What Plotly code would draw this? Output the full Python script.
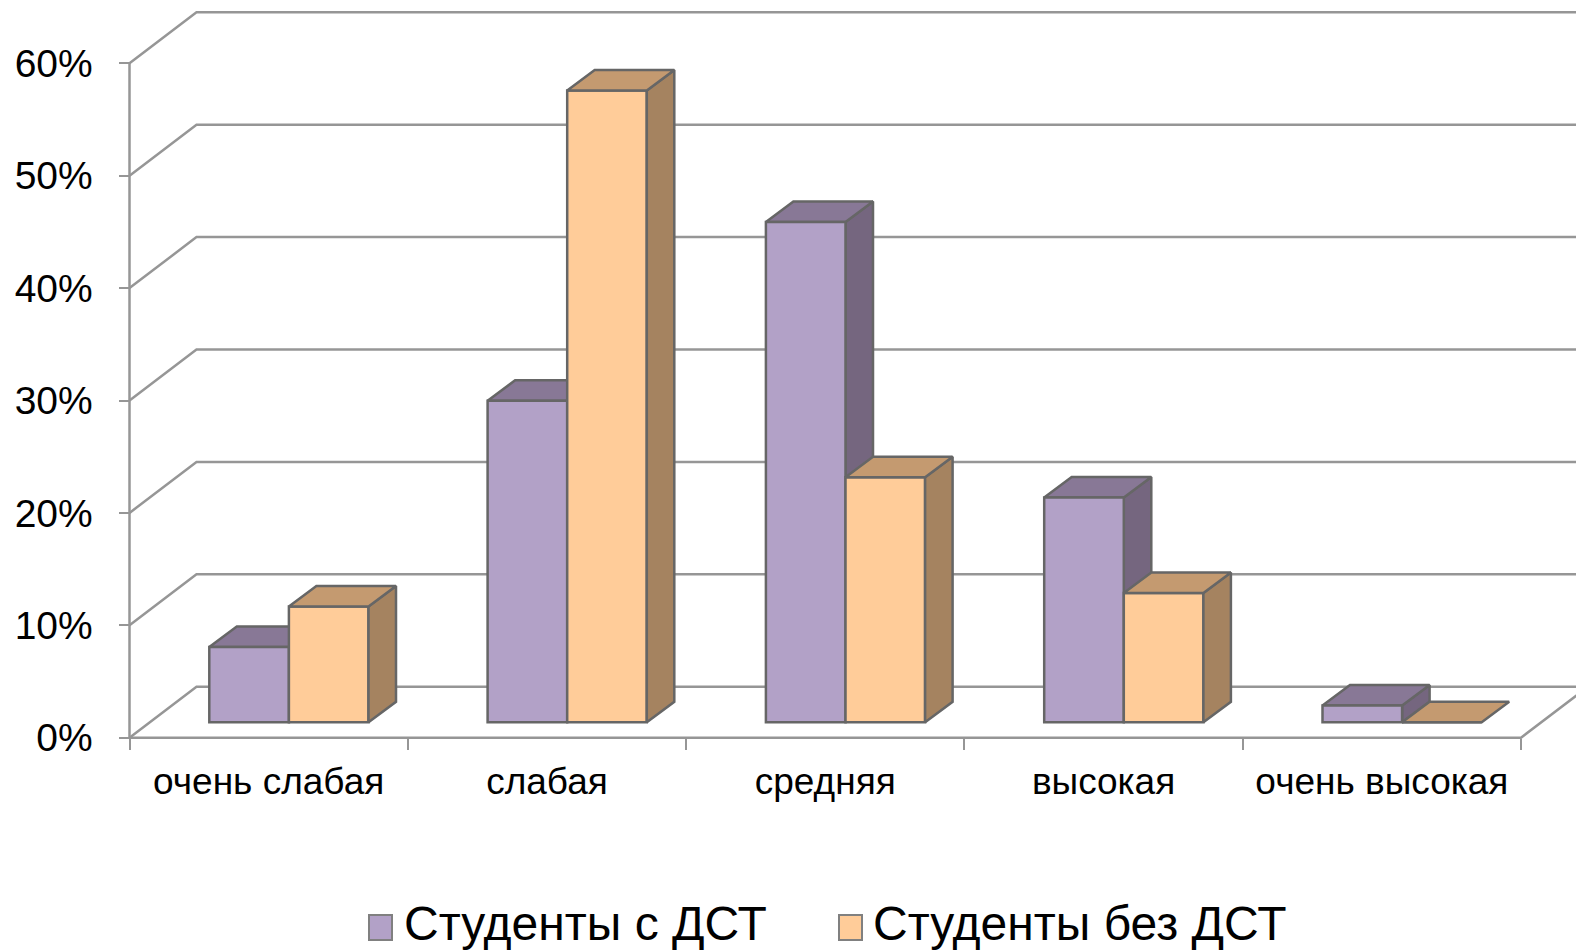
import plotly.graph_objects as go

categories = ["очень слабая", "слабая", "средняя", "высокая", "очень высокая"]
with_dst = [6.7, 28.6, 44.5, 20.0, 1.5]
without_dst = [10.3, 56.2, 21.8, 11.5, 0.0]
y_ticks = [0, 10, 20, 30, 40, 50, 60]
y_labels = ["0%", "10%", "20%", "30%", "40%", "50%", "60%"]
series_names = ["Студенты с ДСТ", "Студенты без ДСТ"]

W, H = 1576, 950
X0_PX, Y0_PX = 129.5, 737.7
STEP_PX, PCT_PX = 278.3, 11.24
x_range = [-X0_PX / STEP_PX, (W - X0_PX) / STEP_PX]
y_range = [(Y0_PX - H) / PCT_PX, Y0_PX / PCT_PX]

wall_dx, wall_dy = 67 / STEP_PX, 51 / PCT_PX
depth_dx, depth_dy = 27.5 / STEP_PX, 20.5 / PCT_PX
floor = 15.4 / PCT_PX
bar_w = 79.6 / STEP_PX
bar_left = 79.8 / STEP_PX

GRID = "#969696"
EDGE = "#666666"
GRID_W = 2.5
EDGE_W = 2.5
PURPLE = dict(front="#B2A1C7", top="#887896", side="#75667F")
ORANGE = dict(front="#FFCC99", top="#C49A70", side="#A58360")
FONT = "Liberation Sans, Arial, sans-serif"

fig = go.Figure()
n = len(categories)

# Walls and floor
for t in y_ticks:
    fig.add_trace(go.Scatter(x=[0, wall_dx, x_range[1]], y=[t, t + wall_dy, t + wall_dy], mode="lines",
                             line=dict(color=GRID, width=GRID_W), showlegend=False, hoverinfo="skip"))
fig.add_trace(go.Scatter(x=[0, 0], y=[0, y_ticks[-1]], mode="lines", line=dict(color=GRID, width=GRID_W),
                         showlegend=False, hoverinfo="skip"))
fig.add_trace(go.Scatter(x=[0, n, n + wall_dx], y=[0, 0, wall_dy], mode="lines", line=dict(color=GRID, width=GRID_W),
                         showlegend=False, hoverinfo="skip"))


def box_faces(left, value, colors, xaxis, yaxis):
    right = left + bar_w
    top = floor + value
    fig.add_trace(go.Scatter(
        x=[right, right + depth_dx, right + depth_dx, right, right],
        y=[floor, floor + depth_dy, top + depth_dy, top, floor],
        mode="lines", fill="toself", fillcolor=colors["side"], line=dict(color=EDGE, width=EDGE_W),
        showlegend=False, hoverinfo="skip", xaxis=xaxis, yaxis=yaxis))
    fig.add_trace(go.Scatter(
        x=[left, left + depth_dx, right + depth_dx, right, left],
        y=[top, top + depth_dy, top + depth_dy, top, top],
        mode="lines", fill="toself", fillcolor=colors["top"], line=dict(color=EDGE, width=EDGE_W),
        showlegend=False, hoverinfo="skip", xaxis=xaxis, yaxis=yaxis))


for i in range(n):
    box_faces(i + bar_left, with_dst[i], PURPLE, "x", "y")

for i in range(n):
    if without_dst[i] > 0:
        box_faces(i + bar_left + bar_w, without_dst[i], ORANGE, "x2", "y2")
    else:
        left = i + bar_left + bar_w
        fig.add_trace(go.Scatter(
            x=[left, left + depth_dx, left + bar_w + depth_dx, left + bar_w, left],
            y=[floor, floor + depth_dy, floor + depth_dy, floor, floor],
            mode="lines", fill="toself", fillcolor=ORANGE["top"], line=dict(color=EDGE, width=EDGE_W),
            showlegend=False, hoverinfo="skip", xaxis="x2", yaxis="y2"))

centers = list(range(n))
fig.add_trace(go.Bar(x=[c + bar_left + bar_w / 2 for c in centers], y=with_dst, base=floor, width=bar_w,
                     name=series_names[0], marker=dict(color=PURPLE["front"], line=dict(color=EDGE, width=EDGE_W)),
                     xaxis="x2", yaxis="y2", showlegend=False))
fig.add_trace(go.Bar(x=[c + bar_left + 1.5 * bar_w for c in centers], y=without_dst, base=floor, width=bar_w,
                     name=series_names[1], marker=dict(color=ORANGE["front"], line=dict(color=EDGE, width=EDGE_W)),
                     xaxis="x2", yaxis="y2", showlegend=False))

# Legend, drawn as keys and real text
legend_items = [(series_names[0], PURPLE["front"], 369, 402), (series_names[1], ORANGE["front"], 839, 871)]
shapes = []
annotations = []
for name, color, key_x, text_x in legend_items:
    shapes.append(dict(type="rect", xref="paper", yref="paper", x0=key_x / W, x1=(key_x + 23) / W,
                       y0=1 - 940 / H, y1=1 - 915 / H, fillcolor=color, line=dict(color="#808080", width=2)))
    annotations.append(dict(text=name, xref="paper", yref="paper", x=text_x / W, y=1 - 923 / H, xanchor="left",
                            yanchor="middle", showarrow=False, font=dict(family=FONT, size=48, color="#000000")))

fig.update_layout(
    width=W, height=H, margin=dict(l=0, r=0, t=0, b=0), paper_bgcolor="white", plot_bgcolor="white",
    barmode="overlay", showlegend=False, shapes=shapes, annotations=annotations,
    xaxis=dict(range=x_range, domain=[0, 1], anchor="free", position=(H - Y0_PX) / H, showgrid=False, zeroline=False,
               showline=False, tickmode="array", tickvals=[i + 0.5 for i in range(n)], ticktext=categories, ticklen=0,
               ticklabelstandoff=18, tickfont=dict(family=FONT, size=37, color="#000000"),
               minor=dict(tickmode="array", tickvals=list(range(n + 1)), ticks="outside", ticklen=11, tickwidth=2,
                          tickcolor=GRID, showgrid=False)),
    yaxis=dict(range=y_range, domain=[0, 1], anchor="free", position=X0_PX / W, showgrid=False, zeroline=False,
               showline=False, tickmode="array", tickvals=y_ticks, ticktext=y_labels, ticks="outside", ticklen=11,
               tickwidth=2, tickcolor=GRID, ticklabelstandoff=18, tickfont=dict(family=FONT, size=39, color="#000000")),
    xaxis2=dict(range=x_range, overlaying="x", visible=False, domain=[0, 1], anchor="y2"),
    yaxis2=dict(range=y_range, overlaying="y", visible=False, domain=[0, 1], anchor="x2"),
)

fig.write_html("out.html", post_script="document.body.style.margin='0';document.documentElement.style.overflow='hidden';",
               config=dict(displayModeBar=False))
